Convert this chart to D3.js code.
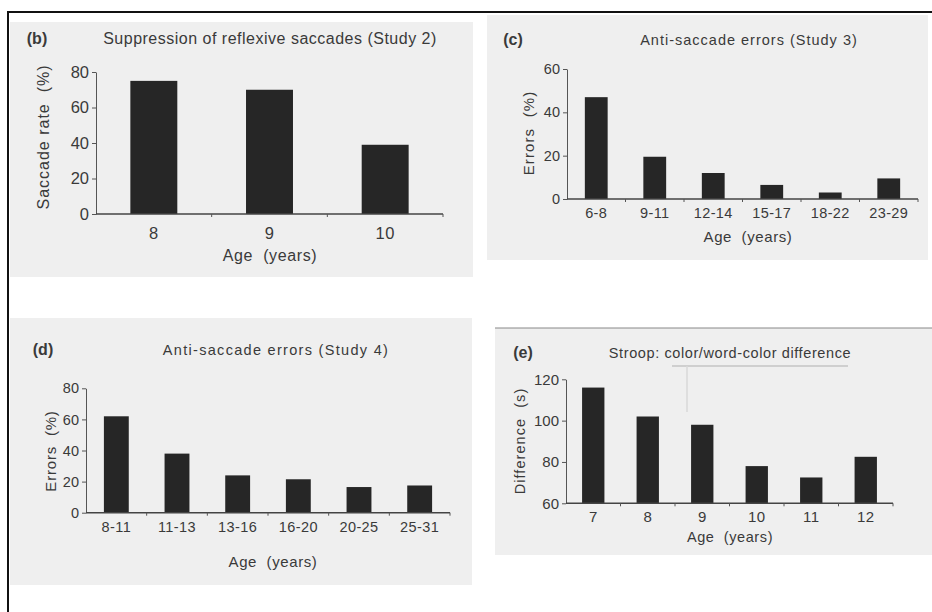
<!DOCTYPE html>
<html>
<head>
<meta charset="utf-8">
<script src="https://cdn.jsdelivr.net/npm/d3@7"></script>
<style>
  body { margin: 0; background: #fff; }
  text { font-family: "Liberation Sans", Arial, sans-serif; fill: #3a3a3a; white-space: pre; }
</style>
</head>
<body>
<svg width="932" height="612"></svg>
<script>
// ---- data ----
var ageB = ["8", "9", "10"];
var rateB = [75, 70, 39];
var ticksB = [0, 20, 40, 60, 80];

var ageC = ["6-8", "9-11", "12-14", "15-17", "18-22", "23-29"];
var errC = [47, 19.5, 12, 6.5, 3, 9.5];
var ticksC = [0, 20, 40, 60];

var ageD = ["8-11", "11-13", "13-16", "16-20", "20-25", "25-31"];
var errD = [62, 38, 24, 21.5, 16.5, 17.5];
var ticksD = [0, 20, 40, 60, 80];

var ageE = ["7", "8", "9", "10", "11", "12"];
var diffE = [116, 102, 98, 78, 72.5, 82.5];
var ticksE = [60, 80, 100, 120];

var svg = d3.select("svg");

// outer frame: only top and left edges show
svg.append("line").attr("x1", 8).attr("y1", 12).attr("x2", 932).attr("y2", 12)
  .attr("stroke", "#111").attr("stroke-width", 2);
svg.append("line").attr("x1", 8).attr("y1", 11).attr("x2", 8).attr("y2", 612)
  .attr("stroke", "#111").attr("stroke-width", 2);

var panels = [
  { tag: "(b)", title: "Suppression of reflexive saccades (Study 2)", ylab: "Saccade rate  (%)",
    cats: ageB, vals: rateB, ticks: ticksB,
    bg: [10, 22, 473, 277], x0: 96, x1: 443, yb: 214, yt: 72, pad: 0.594,
    tagX: 37, titleX: 270, headY: 44, tickY: 239, ageX: 270, ageY: 261, ylX: 43, ylY: 137,
    fTitle: 16, lsTitle: 0.5, fTick: 16.5, fLab: 16, lsLab: 1.0 },
  { tag: "(c)", title: "Anti-saccade errors (Study 3)", ylab: "Errors  (%)",
    cats: ageC, vals: errC, ticks: ticksC,
    bg: [487, 15, 928, 260], x0: 567, x1: 918, yb: 199, yt: 69, pad: 0.61,
    tagX: 513, titleX: 749, headY: 45, tickY: 218, ageX: 748, ageY: 242, ylX: 528, ylY: 133,
    fTitle: 14.5, lsTitle: 1.0, fTick: 14.5, fLab: 15, lsLab: 1.1 },
  { tag: "(d)", title: "Anti-saccade errors (Study 4)", ylab: "Errors  (%)",
    cats: ageD, vals: errD, ticks: ticksD,
    bg: [10, 318, 472, 585], x0: 86, x1: 450, yb: 512.7, yt: 388.3, pad: 0.59,
    tagX: 43, titleX: 276, headY: 355, tickY: 531.5, ageX: 273, ageY: 567, ylX: 50, ylY: 451,
    fTitle: 14.5, lsTitle: 1.3, fTick: 14.5, fLab: 15, lsLab: 0.8 },
  { tag: "(e)", title: "Stroop: color/word-color difference", ylab: "Difference  (s)",
    cats: ageE, vals: diffE, ticks: ticksE,
    bg: [495, 328, 932, 555], x0: 566, x1: 893, yb: 503.3, yt: 379.3, pad: 0.59,
    tagX: 523, titleX: 730, headY: 358, tickY: 522, ageX: 730, ageY: 542, ylX: 520, ylY: 441,
    fTitle: 14.5, lsTitle: 0.6, fTick: 15, fLab: 14.5, lsLab: 1.05 }
];

panels.forEach(drawPanel);

// faint scan marks in panel (e)
svg.append("line").attr("x1", 495).attr("y1", 328).attr("x2", 932).attr("y2", 328)
  .attr("stroke", "#888").attr("stroke-width", 1);
svg.append("line").attr("x1", 672).attr("y1", 366).attr("x2", 848).attr("y2", 366)
  .attr("stroke", "#c4c4c4").attr("stroke-width", 1.5);
svg.append("line").attr("x1", 687).attr("y1", 366).attr("x2", 687).attr("y2", 412)
  .attr("stroke", "#d8d8d8").attr("stroke-width", 1.5);

function drawPanel(p) {
  var g = svg.append("g");

  g.append("rect")
    .attr("x", p.bg[0]).attr("y", p.bg[1])
    .attr("width", p.bg[2] - p.bg[0]).attr("height", p.bg[3] - p.bg[1])
    .attr("fill", "#efefef");

  var x = d3.scaleBand()
    .domain(p.cats)
    .range([p.x0, p.x1])
    .paddingInner(p.pad)
    .paddingOuter(p.pad / 2);

  var y = d3.scaleLinear()
    .domain(d3.extent(p.ticks))
    .range([p.yb, p.yt]);

  var data = p.cats.map(function(c, i) { return { cat: c, v: p.vals[i] }; });

  g.selectAll(".bar")
    .data(data)
    .enter().append("rect")
    .attr("class", "bar")
    .attr("x", function(d) { return x(d.cat); })
    .attr("width", x.bandwidth())
    .attr("y", function(d) { return y(d.v); })
    .attr("height", function(d) { return y(y.domain()[0]) - y(d.v); })
    .attr("fill", "#262626");

  // y axis
  var ya = g.append("g")
    .attr("transform", "translate(" + p.x0 + ",0)")
    .call(d3.axisLeft(y).tickValues(p.ticks).tickSize(4).tickSizeOuter(0).tickPadding(3));
  ya.select(".domain").attr("stroke", "#555");
  ya.selectAll(".tick line").attr("stroke", "#555");
  ya.selectAll(".tick text")
    .style("font-size", p.fTick + "px")
    .attr("fill", "#3a3a3a");

  // x axis line with small ticks at slot boundaries
  g.append("line")
    .attr("x1", p.x0).attr("x2", p.x1)
    .attr("y1", p.yb).attr("y2", p.yb)
    .attr("stroke", "#444").attr("stroke-width", 1.5);

  var step = x.step();
  g.selectAll(".slot")
    .data(d3.range(1, p.cats.length + 1))
    .enter().append("line")
    .attr("x1", function(i) { return x.range()[0] + i * step; })
    .attr("x2", function(i) { return x.range()[0] + i * step; })
    .attr("y1", p.yb).attr("y2", p.yb + 3)
    .attr("stroke", "#555");

  g.selectAll(".xlab")
    .data(p.cats)
    .enter().append("text")
    .attr("x", function(d) { return x(d) + x.bandwidth() / 2; })
    .attr("y", p.tickY)
    .attr("text-anchor", "middle")
    .style("font-size", p.fTick + "px")
    .style("letter-spacing", "0.4px")
    .text(function(d) { return d; });

  g.append("text")
    .attr("x", p.ageX).attr("y", p.ageY)
    .attr("text-anchor", "middle")
    .style("font-size", p.fLab + "px")
    .style("letter-spacing", "0.6px")
    .text("Age  (years)");

  g.append("text")
    .attr("transform", "translate(" + p.ylX + "," + p.ylY + ")rotate(-90)")
    .attr("text-anchor", "middle")
    .attr("dominant-baseline", "central")
    .style("font-size", p.fLab + "px")
    .style("letter-spacing", p.lsLab + "px")
    .text(p.ylab);

  g.append("text")
    .attr("x", p.tagX).attr("y", p.headY)
    .attr("text-anchor", "middle")
    .style("font-size", "16px")
    .style("font-weight", "bold")
    .text(p.tag);

  g.append("text")
    .attr("x", p.titleX).attr("y", p.headY)
    .attr("text-anchor", "middle")
    .style("font-size", p.fTitle + "px")
    .style("letter-spacing", p.lsTitle + "px")
    .text(p.title);
}
</script>
</body>
</html>
